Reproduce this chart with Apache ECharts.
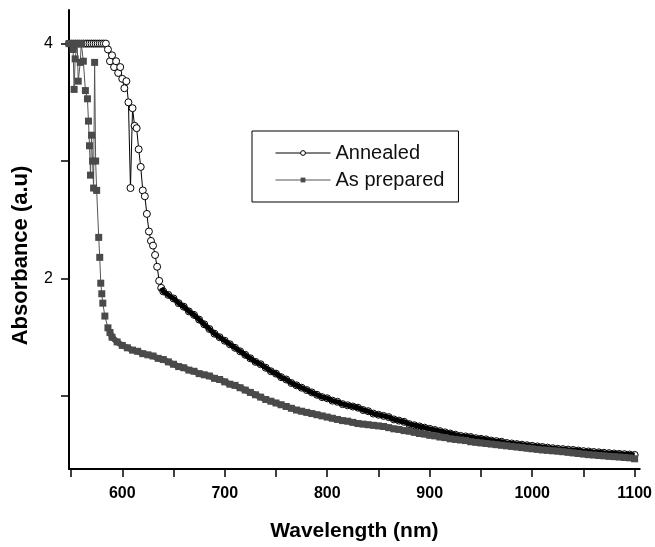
<!DOCTYPE html>
<html>
<head>
<meta charset="utf-8">
<script src="https://cdn.jsdelivr.net/npm/echarts@6/dist/echarts.min.js"></script>
<style>html,body{margin:0;padding:0;background:#fff;}#c{width:655px;height:547px;}</style>
</head>
<body>
<div id="c"></div>
<script>
// ---- data ----
const annealedX = [548,550,552,554,556,558,560,562,564,566,568,570,572,574,576,578,580,582,584,586,588,590,592,594,596,598,600,602,604,606,608,610,612,614,616,618,620,622,624,626,628,630,632,634,636,638,640,
645,650,655,660,665,670,675,680,685,690,695,700,705,710,715,720,725,730,735,740,745,750,755,760,765,770,775,780,785,790,795,800,805,810,815,820,825,830,835,840,845,850,855,860,865,870,875,880,885,890,895,900,905,910,915,920,925,930,935,940,945,950,955,960,965,970,975,980,985,990,995,1000,1005,1010,1015,1020,1025,1030,1035,1040,1045,1050,1055,1060,1065,1070,1075,1080,1085,1090,1095,1100];
const annealedY = [4,4,4,4,4,4,4,4,4,4,4,4,4,4,4,4,4,4,4,3.95,3.85,3.9,3.8,3.85,3.75,3.8,3.7,3.62,3.68,3.5,2.77,3.45,3.3,3.28,3.1,2.95,2.75,2.7,2.55,2.4,2.32,2.28,2.2,2.1,1.98,1.92,1.89,
1.86,1.83,1.79,1.76,1.72,1.69,1.65,1.61,1.57,1.53,1.5,1.47,1.44,1.41,1.38,1.35,1.32,1.29,1.27,1.24,1.21,1.19,1.16,1.14,1.11,1.09,1.07,1.05,1.03,1.01,0.99,0.98,0.96,0.95,0.93,0.92,0.91,0.9,0.88,0.87,0.85,0.84,0.83,0.82,0.8,0.79,0.78,0.76,0.75,0.74,0.73,0.72,0.71,0.7,0.69,0.68,0.67,0.66,0.655,0.65,0.64,0.635,0.63,0.62,0.615,0.61,0.6,0.595,0.59,0.585,0.58,0.575,0.57,0.565,0.56,0.555,0.55,0.547,0.543,0.54,0.535,0.53,0.527,0.523,0.52,0.516,0.513,0.51,0.507,0.504,0.501,0.498];

const preparedX = [548,550,552,553,554,556,557,559,560,562,564,566,567,568,569,570,571,572,573,574,575,577,578,579,580,581,583,586,588,590,595,600,605,610,615,620,625,630,635,640,645,650,655,660,665,670,675,680,685,690,695,700,705,710,715,720,725,730,735,740,745,750,755,760,765,770,775,780,785,790,795,800,805,810,815,820,825,830,835,840,845,850,855,860,865,870,875,880,885,890,895,900,905,910,915,920,925,930,935,940,945,950,955,960,965,970,975,980,985,990,995,1000,1005,1010,1015,1020,1025,1030,1035,1040,1045,1050,1055,1060,1065,1070,1075,1080,1085,1090,1095,1100];
const preparedY = [4,4,3.95,3.61,3.87,4,3.68,3.84,4,3.85,3.6,3.53,3.34,3.13,2.88,3.22,3.0,2.77,3.84,3.0,2.75,2.35,2.18,1.96,1.87,1.79,1.68,1.58,1.54,1.5,1.46,1.43,1.41,1.39,1.38,1.36,1.35,1.34,1.32,1.31,1.29,1.27,1.25,1.24,1.22,1.21,1.19,1.18,1.17,1.15,1.14,1.12,1.1,1.09,1.07,1.05,1.03,1.01,0.99,0.97,0.955,0.94,0.925,0.91,0.895,0.88,0.87,0.86,0.85,0.84,0.83,0.82,0.81,0.8,0.79,0.785,0.775,0.765,0.76,0.755,0.75,0.745,0.74,0.73,0.72,0.715,0.705,0.7,0.69,0.68,0.675,0.665,0.66,0.65,0.645,0.635,0.63,0.625,0.62,0.61,0.605,0.6,0.595,0.59,0.585,0.58,0.575,0.57,0.565,0.56,0.555,0.55,0.545,0.54,0.537,0.533,0.53,0.525,0.52,0.515,0.51,0.505,0.5,0.497,0.493,0.49,0.486,0.483,0.48,0.476,0.473,0.465];

const xTicks = [550,600,650,700,750,800,850,900,950,1000,1050,1100];
const xLabels = [600,700,800,900,1000,1100];
const yTicks = [1,2,3,4];
const yLabels = [2,4];
const seriesNames = ['Annealed','As prepared'];
const annealedBandFrom = 638;   // dense-marker band begins here
const preparedBandFrom = 588;

// ---- chart ----
const zip = (xs, ys) => xs.map((x, i) => [x, ys[i]]);
const zipFrom = (xs, ys, from) => zip(xs, ys).filter(p => p[0] >= from);
const chart = echarts.init(document.getElementById('c'), null, {renderer: 'canvas'});
const font = 'Liberation Sans, Arial, sans-serif';
chart.setOption({
  animation: false,
  backgroundColor: '#fff',
  grid: {left: 69, right: 15, top: 10, bottom: 72, containLabel: false},
  legend: {
    orient: 'vertical',
    left: 252, top: 131,
    padding: [12, 14, 12, 23],
    itemGap: 7,
    itemWidth: 55, itemHeight: 6,
    borderColor: '#000', borderWidth: 1,
    textStyle: {fontFamily: font, fontSize: 20, color: '#111'},
    data: [
      {name: seriesNames[0], itemStyle: {color: '#fff', borderColor: '#000', borderWidth: 1}, lineStyle: {color: '#000', width: 1}},
      {name: seriesNames[1], itemStyle: {color: '#4a4a4a', borderWidth: 0}, lineStyle: {color: '#555', width: 1}}
    ]
  },
  xAxis: {
    type: 'value', min: 548, max: 1105,
    name: 'Wavelength (nm)', nameLocation: 'middle', nameGap: 52,
    nameTextStyle: {fontFamily: font, fontSize: 21, fontWeight: 'bold', color: '#000'},
    axisLine: {show: true, lineStyle: {color: '#000', width: 2}},
    axisTick: {show: true, customValues: xTicks, length: 8, lineStyle: {color: '#000', width: 1.5}},
    axisLabel: {customValues: xLabels, formatter: v => String(v), margin: 17, fontFamily: font, fontSize: 16, fontWeight: 'bold', color: '#000'},
    splitLine: {show: false}
  },
  yAxis: {
    type: 'value', min: 0.378, max: 4.286,
    name: 'Absorbance (a.u)', nameLocation: 'middle', nameGap: 37,
    nameTextStyle: {fontFamily: font, fontSize: 22, fontWeight: 'bold', color: '#000', padding: [0, 32, 0, 0]},
    axisLine: {show: true, lineStyle: {color: '#000', width: 2}},
    axisTick: {show: true, customValues: yTicks, length: 8, lineStyle: {color: '#000', width: 1.5}},
    axisLabel: {customValues: yLabels, margin: 16, fontFamily: font, fontSize: 16, color: '#000'},
    splitLine: {show: false}
  },
  series: [
    {
      name: seriesNames[0], type: 'line',
      data: zip(annealedX, annealedY),
      symbol: 'circle', symbolSize: 7, showAllSymbol: true,
      lineStyle: {color: '#000', width: 1},
      itemStyle: {color: '#fff', borderColor: '#000', borderWidth: 1},
      z: 2
    },
    {
      name: seriesNames[1], type: 'line',
      data: zip(preparedX, preparedY),
      symbol: 'rect', symbolSize: 7, showAllSymbol: true,
      lineStyle: {color: '#555', width: 1},
      itemStyle: {color: '#4a4a4a', borderWidth: 0},
      z: 3
    },
    {
      name: seriesNames[0], type: 'line',
      data: zipFrom(annealedX, annealedY, annealedBandFrom),
      symbol: 'none', silent: true,
      lineStyle: {color: '#000', width: 5},
      z: 2.5
    },
    {
      name: seriesNames[1], type: 'line',
      data: zipFrom(preparedX, preparedY, preparedBandFrom),
      symbol: 'none', silent: true,
      lineStyle: {color: '#4a4a4a', width: 6},
      z: 2.8
    }
  ]
});
</script>
</body>
</html>
